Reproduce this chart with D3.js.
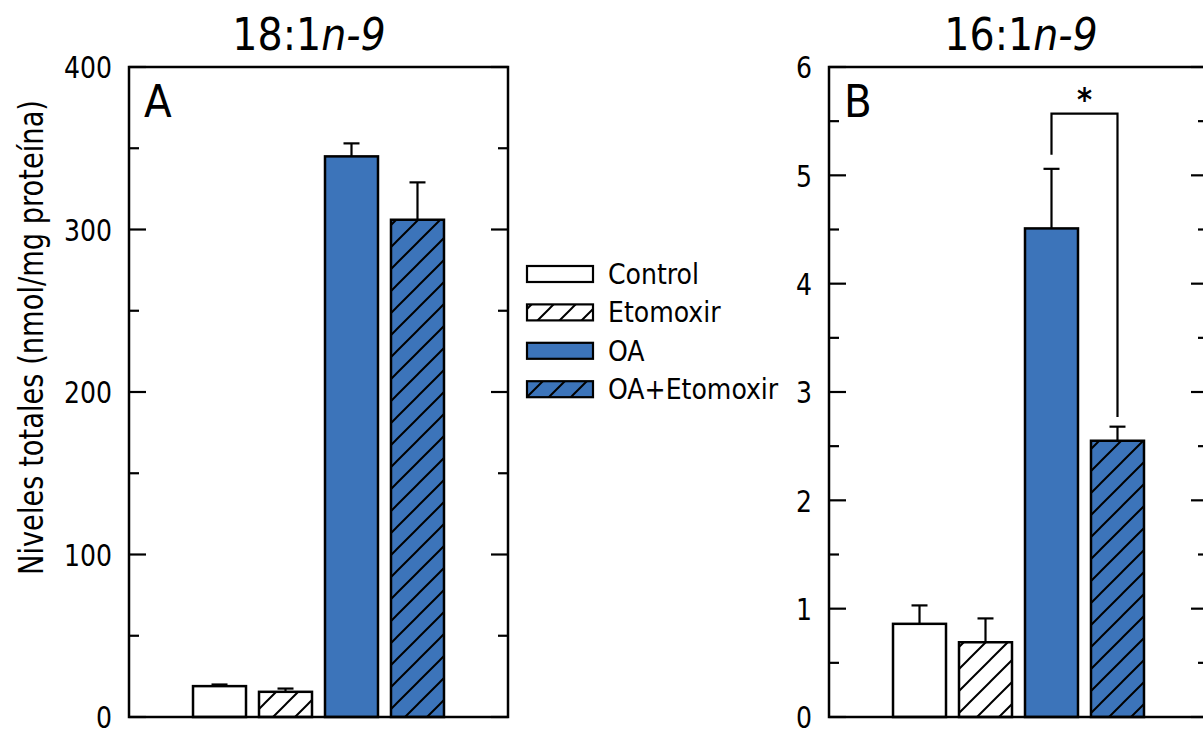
<!DOCTYPE html>
<html><head><meta charset="utf-8">
<script src="https://cdn.jsdelivr.net/npm/d3@7"></script>
<style>
body{margin:0;background:#fff;}
text{font-family:"DejaVu Sans Condensed","DejaVu Sans",sans-serif;font-stretch:condensed;fill:#000;}
</style></head>
<body><svg id="c" width="1203" height="731"></svg>
<script>
const categories = ["Control","Etomoxir","OA","OA+Etomoxir"];
const hatched = [false,true,false,true];
const fills = ["#ffffff","#ffffff","#3c74ba","#3c74ba"];
const valuesA = [19, 15.5, 345, 306];
const errorsA = [1, 2, 8, 23];
const valuesB = [0.86, 0.69, 4.51, 2.55];
const errorsB = [0.17, 0.22, 0.55, 0.13];
const ticksA = [0,100,200,300,400];
const ticksB = [0,1,2,3,4,5,6];
const titleA = ["18:1","n-9"];
const titleB = ["16:1","n-9"];
const yLabel = "Niveles totales (nmol/mg proteína)";
const sig = {a:"OA", b:"OA+Etomoxir", y:5.57, yA:5.19, yB:2.77, label:"*"};

const svg = d3.select("#c");
const defs = svg.append("defs");
fills.forEach((f,i)=>{
  if(!hatched[i]) return;
  const p = defs.append("pattern").attr("id","h"+i).attr("patternUnits","userSpaceOnUse")
    .attr("width",22).attr("height",22);
  p.append("rect").attr("width",22).attr("height",22).attr("fill",f);
  p.append("path").attr("d","M-5.5,5.5L5.5,-5.5M0,22L22,0M16.5,27.5L27.5,16.5")
    .attr("stroke","#000").attr("stroke-width",2);
});
const fillOf = i => hatched[i] ? `url(#h${i})` : fills[i];

function panel(opt){
  const {left, top, w, h, max, ticks, values, errors, title, titleX, letter} = opt;
  const g = svg.append("g");
  const x = d3.scaleBand().domain(categories).range([left, left+w]).paddingInner(0.197).paddingOuter(0.97);
  const y = d3.scaleLinear().domain([0,max]).range([top+h, top]);
  const minor = d3.range(0, max+1e-9, ticks[1]/2);
  g.append("g").selectAll("line").data(minor).join("line")
    .attr("x1",left).attr("x2",d=>left+(ticks.includes(d)?17:10))
    .attr("y1",d=>y(d)).attr("y2",d=>y(d)).attr("stroke","#000").attr("stroke-width",2.2);
  g.append("g").selectAll("line").data(minor).join("line")
    .attr("x1",left+w).attr("x2",d=>left+w-(ticks.includes(d)?17:10))
    .attr("y1",d=>y(d)).attr("y2",d=>y(d)).attr("stroke","#000").attr("stroke-width",2.2);
  const axis = d3.axisLeft(y).tickValues(ticks).tickSize(0).tickPadding(17).tickFormat(d3.format("d"));
  const ag = g.append("g").attr("transform",`translate(${left},0)`).call(axis);
  ag.select(".domain").remove();
  ag.selectAll("text").style("font-size","31px").attr("font-family",null).attr("dy","0.35em")
    .attr("textLength",d=>16*String(d).length).attr("lengthAdjust","spacingAndGlyphs");
  g.append("g").selectAll("rect").data(values).join("rect")
    .attr("x",(d,i)=>x(categories[i])).attr("width",x.bandwidth())
    .attr("y",d=>y(d)).attr("height",d=>y(0)-y(d))
    .attr("fill",(d,i)=>fillOf(i)).attr("stroke","#000").attr("stroke-width",2.5);
  const eg = g.append("g").attr("stroke","#000").attr("stroke-width",2.2);
  values.forEach((v,i)=>{
    const cx = x(categories[i]) + x.bandwidth()/2;
    eg.append("line").attr("x1",cx).attr("x2",cx).attr("y1",y(v)).attr("y2",y(v+errors[i]));
    eg.append("line").attr("x1",cx-8).attr("x2",cx+8).attr("y1",y(v+errors[i])).attr("y2",y(v+errors[i]));
  });
  g.append("rect").attr("x",left).attr("y",top).attr("width",w).attr("height",h)
    .attr("fill","none").attr("stroke","#000").attr("stroke-width",2.5);
  const t = g.append("text").attr("x",titleX).attr("y",50).attr("text-anchor","middle").style("font-size","44px");
  t.append("tspan").text(title[0]);
  t.append("tspan").attr("font-style","italic").text(title[1]);
  g.append("text").attr("x",left+15).attr("y",117).style("font-size","45px").text(letter);
  return {x,y,g};
}

const A = panel({left:129, top:67, w:379, h:650, max:400, ticks:ticksA, values:valuesA, errors:errorsA, title:titleA, titleX:309, letter:"A"});
const B = panel({left:829, top:67, w:379, h:650, max:6, ticks:ticksB, values:valuesB, errors:errorsB, title:titleB, titleX:1021, letter:"B"});

const xa = B.x(sig.a)+B.x.bandwidth()/2, xb = B.x(sig.b)+B.x.bandwidth()/2;
svg.append("path").attr("d",`M${xa},${B.y(sig.yA)}V${B.y(sig.y)}H${xb}V${B.y(sig.yB)}`)
  .attr("fill","none").attr("stroke","#000").attr("stroke-width",2.2);
svg.append("text").attr("x",(xa+xb)/2).attr("y",110).attr("text-anchor","middle")
  .style("font-size","32px").attr("font-weight","bold").text(sig.label);

svg.append("text").attr("transform","translate(43,575) rotate(-90)").style("font-size","34px")
  .attr("textLength",475).attr("lengthAdjust","spacingAndGlyphs").text(yLabel);

const lg = svg.append("g");
categories.forEach((c,i)=>{
  const cy = 274 + i*38.4;
  lg.append("rect").attr("x",527).attr("y",cy-8).attr("width",66).attr("height",16)
    .attr("fill",fillOf(i)).attr("stroke","#000").attr("stroke-width",2.2);
  lg.append("text").attr("x",608).attr("y",cy).attr("dy","0.36em").style("font-size","28px").text(c);
});
</script></body></html>
